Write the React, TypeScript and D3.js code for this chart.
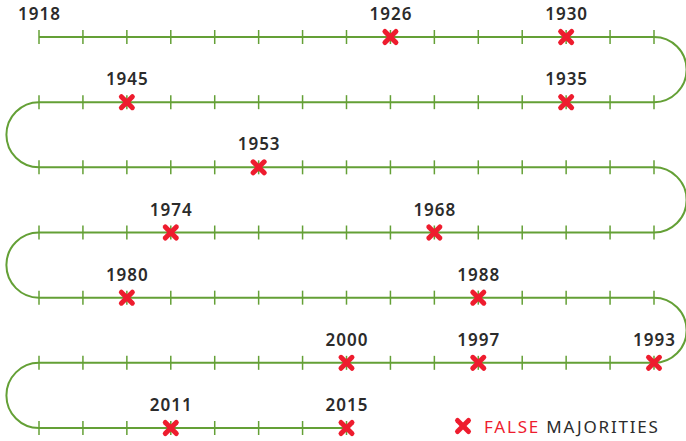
import React from "react";
import * as d3 from "d3";

const startYear = 1918;
const endYear = 2015;
const yearsPerRow = 15;
const falseMajorities = [1926, 1930, 1935, 1945, 1953, 1968, 1974, 1980, 1988, 1993, 1997, 2000, 2011, 2015];
const extraLabels = [1918];
const legendLabel = ["FALSE", " MAJORITIES"];

const W = 686;
const H = 441;
const GREEN = "#64a036";
const RED = "#ee1c2e";
const TEXT = "#2b2b2b";

const colScale = d3.scaleLinear().domain([0, yearsPerRow - 1]).range([39, 654]);
const nRows = Math.ceil((endYear - startYear + 1) / yearsPerRow);
const rowScale = d3.scaleLinear().domain([0, nRows - 1]).range([37, 428]);

function pos(year: number) {
  const i = year - startYear;
  const row = Math.floor(i / yearsPerRow);
  const col = i % yearsPerRow;
  const x = row % 2 === 0 ? colScale(col) : colScale(yearsPerRow - 1 - col);
  return { x, y: rowScale(row) };
}

function buildPath() {
  const p = d3.path();
  const s = pos(startYear);
  p.moveTo(s.x, s.y);
  for (let r = 0; r < nRows; r++) {
    const firstYear = startYear + r * yearsPerRow;
    const lastYear = Math.min(firstYear + yearsPerRow - 1, endYear);
    const e = pos(lastYear);
    p.lineTo(e.x, e.y);
    if (r < nRows - 1) {
      const rad = (rowScale(r + 1) - rowScale(r)) / 2;
      const cy = rowScale(r) + rad;
      if (r % 2 === 0) p.arc(e.x, cy, rad, -Math.PI / 2, Math.PI / 2, false);
      else p.arc(e.x, cy, rad, -Math.PI / 2, -3 * Math.PI / 2, true);
    }
  }
  return p.toString();
}

function Cross({ x, y }: { x: number; y: number }) {
  const a = 5.5;
  return (
    <g stroke={RED} strokeWidth={5} strokeLinecap="round">
      <line x1={x - a} y1={y - a} x2={x + a} y2={y + a} />
      <line x1={x - a} y1={y + a} x2={x + a} y2={y - a} />
    </g>
  );
}

export default function App() {
  const years = d3.range(startYear, endYear + 1);
  const labelYears = [...extraLabels, ...falseMajorities];
  return (
    <div style={{ position: "absolute", left: 0, top: 0 }}>
      <svg width={W} height={H} style={{ display: "block", background: "#fff" }} fontFamily="'Noto Sans', sans-serif">
        <path d={buildPath()} fill="none" stroke={GREEN} strokeWidth={2} />
        {years.map((yr) => {
          const p = pos(yr);
          return <line key={yr} x1={p.x} x2={p.x} y1={p.y - 7} y2={p.y + 7} stroke={GREEN} strokeWidth={1.5} />;
        })}
        {falseMajorities.map((yr) => {
          const p = pos(yr);
          return <Cross key={yr} x={p.x} y={p.y} />;
        })}
        {labelYears.map((yr) => {
          const p = pos(yr);
          return (
            <text key={"l" + yr} x={p.x + 0.5} y={p.y - 17} textAnchor="middle" fontSize={17} fontWeight={600} fill={TEXT} letterSpacing={1}>
              {yr}
            </text>
          );
        })}
        <Cross x={463} y={426} />
        <text x={484} y={433} fontSize={17} fill={TEXT} letterSpacing={1.8} style={{ whiteSpace: "pre" }}>
          <tspan fill={RED}>{legendLabel[0]}</tspan>
          <tspan>{legendLabel[1]}</tspan>
        </text>
      </svg>
    </div>
  );
}
